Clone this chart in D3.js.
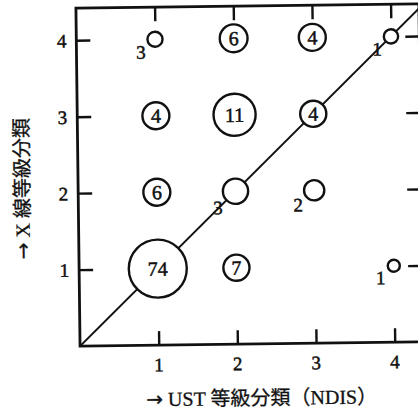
<!DOCTYPE html>
<html>
<head>
<meta charset="utf-8">
<script src="https://cdn.jsdelivr.net/npm/d3@7"></script>
<style>
    body { margin: 0; background: #fff; }
    svg { display: block; }
    .num { font-family: "Liberation Serif", "DejaVu Serif", serif; fill: #111; stroke: #111; stroke-width: 0.5; }
    .title { font-family: "Liberation Serif", "Noto Sans CJK JP", serif; fill: #111; stroke: #111; stroke-width: 0.3; }
    .arrow { font-family: "DejaVu Sans", sans-serif; }
</style>
</head>
<body>
<div id="chart"></div>
<script>
// Data
// ============================================================================
const tickValues = [1, 2, 3, 4];
const ustClass  = [1, 2, 3, 4, 1, 2, 3, 1, 2, 3, 1, 2, 4];   // x: UST grade
const xrayClass = [4, 4, 4, 4, 3, 3, 3, 2, 2, 2, 1, 1, 1];   // y: X-ray grade
const counts    = [3, 6, 4, 1, 4, 11, 4, 6, 3, 2, 74, 7, 1];
// circle weight as drawn (area) and whether the count sits inside the circle
const weights   = [5, 17, 16, 4.5, 16, 39, 15, 16, 14, 9, 74, 15, 3.2];
const circled   = [false, true, true, false, true, true, true, true, false, false, true, true, false];

const xTitle = ["→", " UST 等級分類（NDIS）"];
const yTitle = ["→", " X 線等級分類"];

// Layout
// ============================================================================
const W = 418, H = 412,
    frame = {left: 78, right: 421, top: 6, bottom: 344},
    tickLen = 14;

const svg = d3.select("#chart")
    .append("svg")
        .attr("width", W)
        .attr("height", H);

// the scanned figure is tilted a little
const g = svg.append("g")
    .attr("transform", "rotate(-0.7, 250, 177)");

// Scales
const xScale = d3.scaleLinear().domain([0, 4.36]).range([frame.left, frame.right]);
const yScale = d3.scaleLinear().domain([0, 4.42]).range([frame.bottom, frame.top]);
const rScale = d3.scaleSqrt().domain([0, 74]).range([0, 29]);

// Axes: ticks pointing inward on all four sides
g.append("g")
    .attr("transform", "translate(0," + frame.bottom + ")")
    .call(d3.axisTop(xScale).tickValues(tickValues).tickSize(tickLen).tickFormat(""))
    .call(a => a.select(".domain").remove());
g.append("g")
    .attr("transform", "translate(0," + frame.top + ")")
    .call(d3.axisBottom(xScale).tickValues(tickValues).tickSize(tickLen).tickFormat(""))
    .call(a => a.select(".domain").remove());
g.append("g")
    .attr("transform", "translate(" + frame.left + ",0)")
    .call(d3.axisRight(yScale).tickValues(tickValues).tickSize(tickLen).tickFormat(""))
    .call(a => a.select(".domain").remove());
g.append("g")
    .attr("transform", "translate(" + frame.right + ",0)")
    .call(d3.axisLeft(yScale).tickValues(tickValues).tickSize(tickLen).tickFormat(""))
    .call(a => a.select(".domain").remove());
g.selectAll(".tick line").attr("stroke", "#111").attr("stroke-width", 2.4);

// Tick labels
g.selectAll(".xlab")
    .data(tickValues)
    .join("text")
        .attr("class", "num")
        .attr("x", d => xScale(d))
        .attr("y", frame.bottom + 26)
        .attr("text-anchor", "middle")
        .attr("font-size", 19)
        .text(d => d);
g.selectAll(".ylab")
    .data(tickValues)
    .join("text")
        .attr("class", "num")
        .attr("x", frame.left - 10)
        .attr("y", d => yScale(d) + 7)
        .attr("text-anchor", "end")
        .attr("font-size", 19)
        .text(d => d);

// Diagonal, clipped to the frame
g.append("clipPath").attr("id", "clip")
    .append("rect")
        .attr("x", frame.left).attr("y", frame.top)
        .attr("width", frame.right - frame.left)
        .attr("height", frame.bottom - frame.top);
g.append("path")
    .datum([0, 4.5])
        .attr("clip-path", "url(#clip)")
        .attr("fill", "none")
        .attr("stroke", "#111")
        .attr("stroke-width", 2)
        .attr("d", d3.line().x(d => xScale(d)).y(d => yScale(d)));

// Frame
g.append("rect")
    .attr("x", frame.left).attr("y", frame.top)
    .attr("width", frame.right - frame.left)
    .attr("height", frame.bottom - frame.top)
    .attr("fill", "none")
    .attr("stroke", "#111")
    .attr("stroke-width", 2.8);

// Bubbles
const pts = counts.map((c, i) => ({x: ustClass[i], y: xrayClass[i], n: c, w: weights[i], inside: circled[i]}));

g.selectAll(".bubble")
    .data(pts)
    .join("circle")
        .attr("cx", d => xScale(d.x))
        .attr("cy", d => yScale(d.y))
        .attr("r", d => rScale(d.w))
        .attr("fill", "#fff")
        .attr("stroke", "#111")
        .attr("stroke-width", 2.4);

g.selectAll(".count")
    .data(pts)
    .join("text")
        .attr("class", "num")
        .attr("x", d => d.inside ? xScale(d.x) : xScale(d.x) - rScale(d.w) * 0.7 - 9)
        .attr("y", d => d.inside ? yScale(d.y) + 7 : yScale(d.y) + rScale(d.w) * 0.7 + 14)
        .attr("text-anchor", "middle")
        .attr("font-size", d => d.inside ? 20 : 19)
        .text(d => d.n);

// Axis titles
const xt = g.append("text")
    .attr("class", "title")
    .attr("x", 259)
    .attr("y", 405)
    .attr("text-anchor", "middle")
    .attr("font-size", 20);
xt.append("tspan").attr("class", "arrow").text(xTitle[0]);
xt.append("tspan").text(xTitle[1]);

const yt = g.append("text")
    .attr("class", "title")
    .attr("transform", "translate(29,186) rotate(-90)")
    .attr("text-anchor", "middle")
    .attr("font-size", 20);
yt.append("tspan").attr("class", "arrow").text(yTitle[0]);
yt.append("tspan").text(yTitle[1]);
</script>
</body>
</html>
